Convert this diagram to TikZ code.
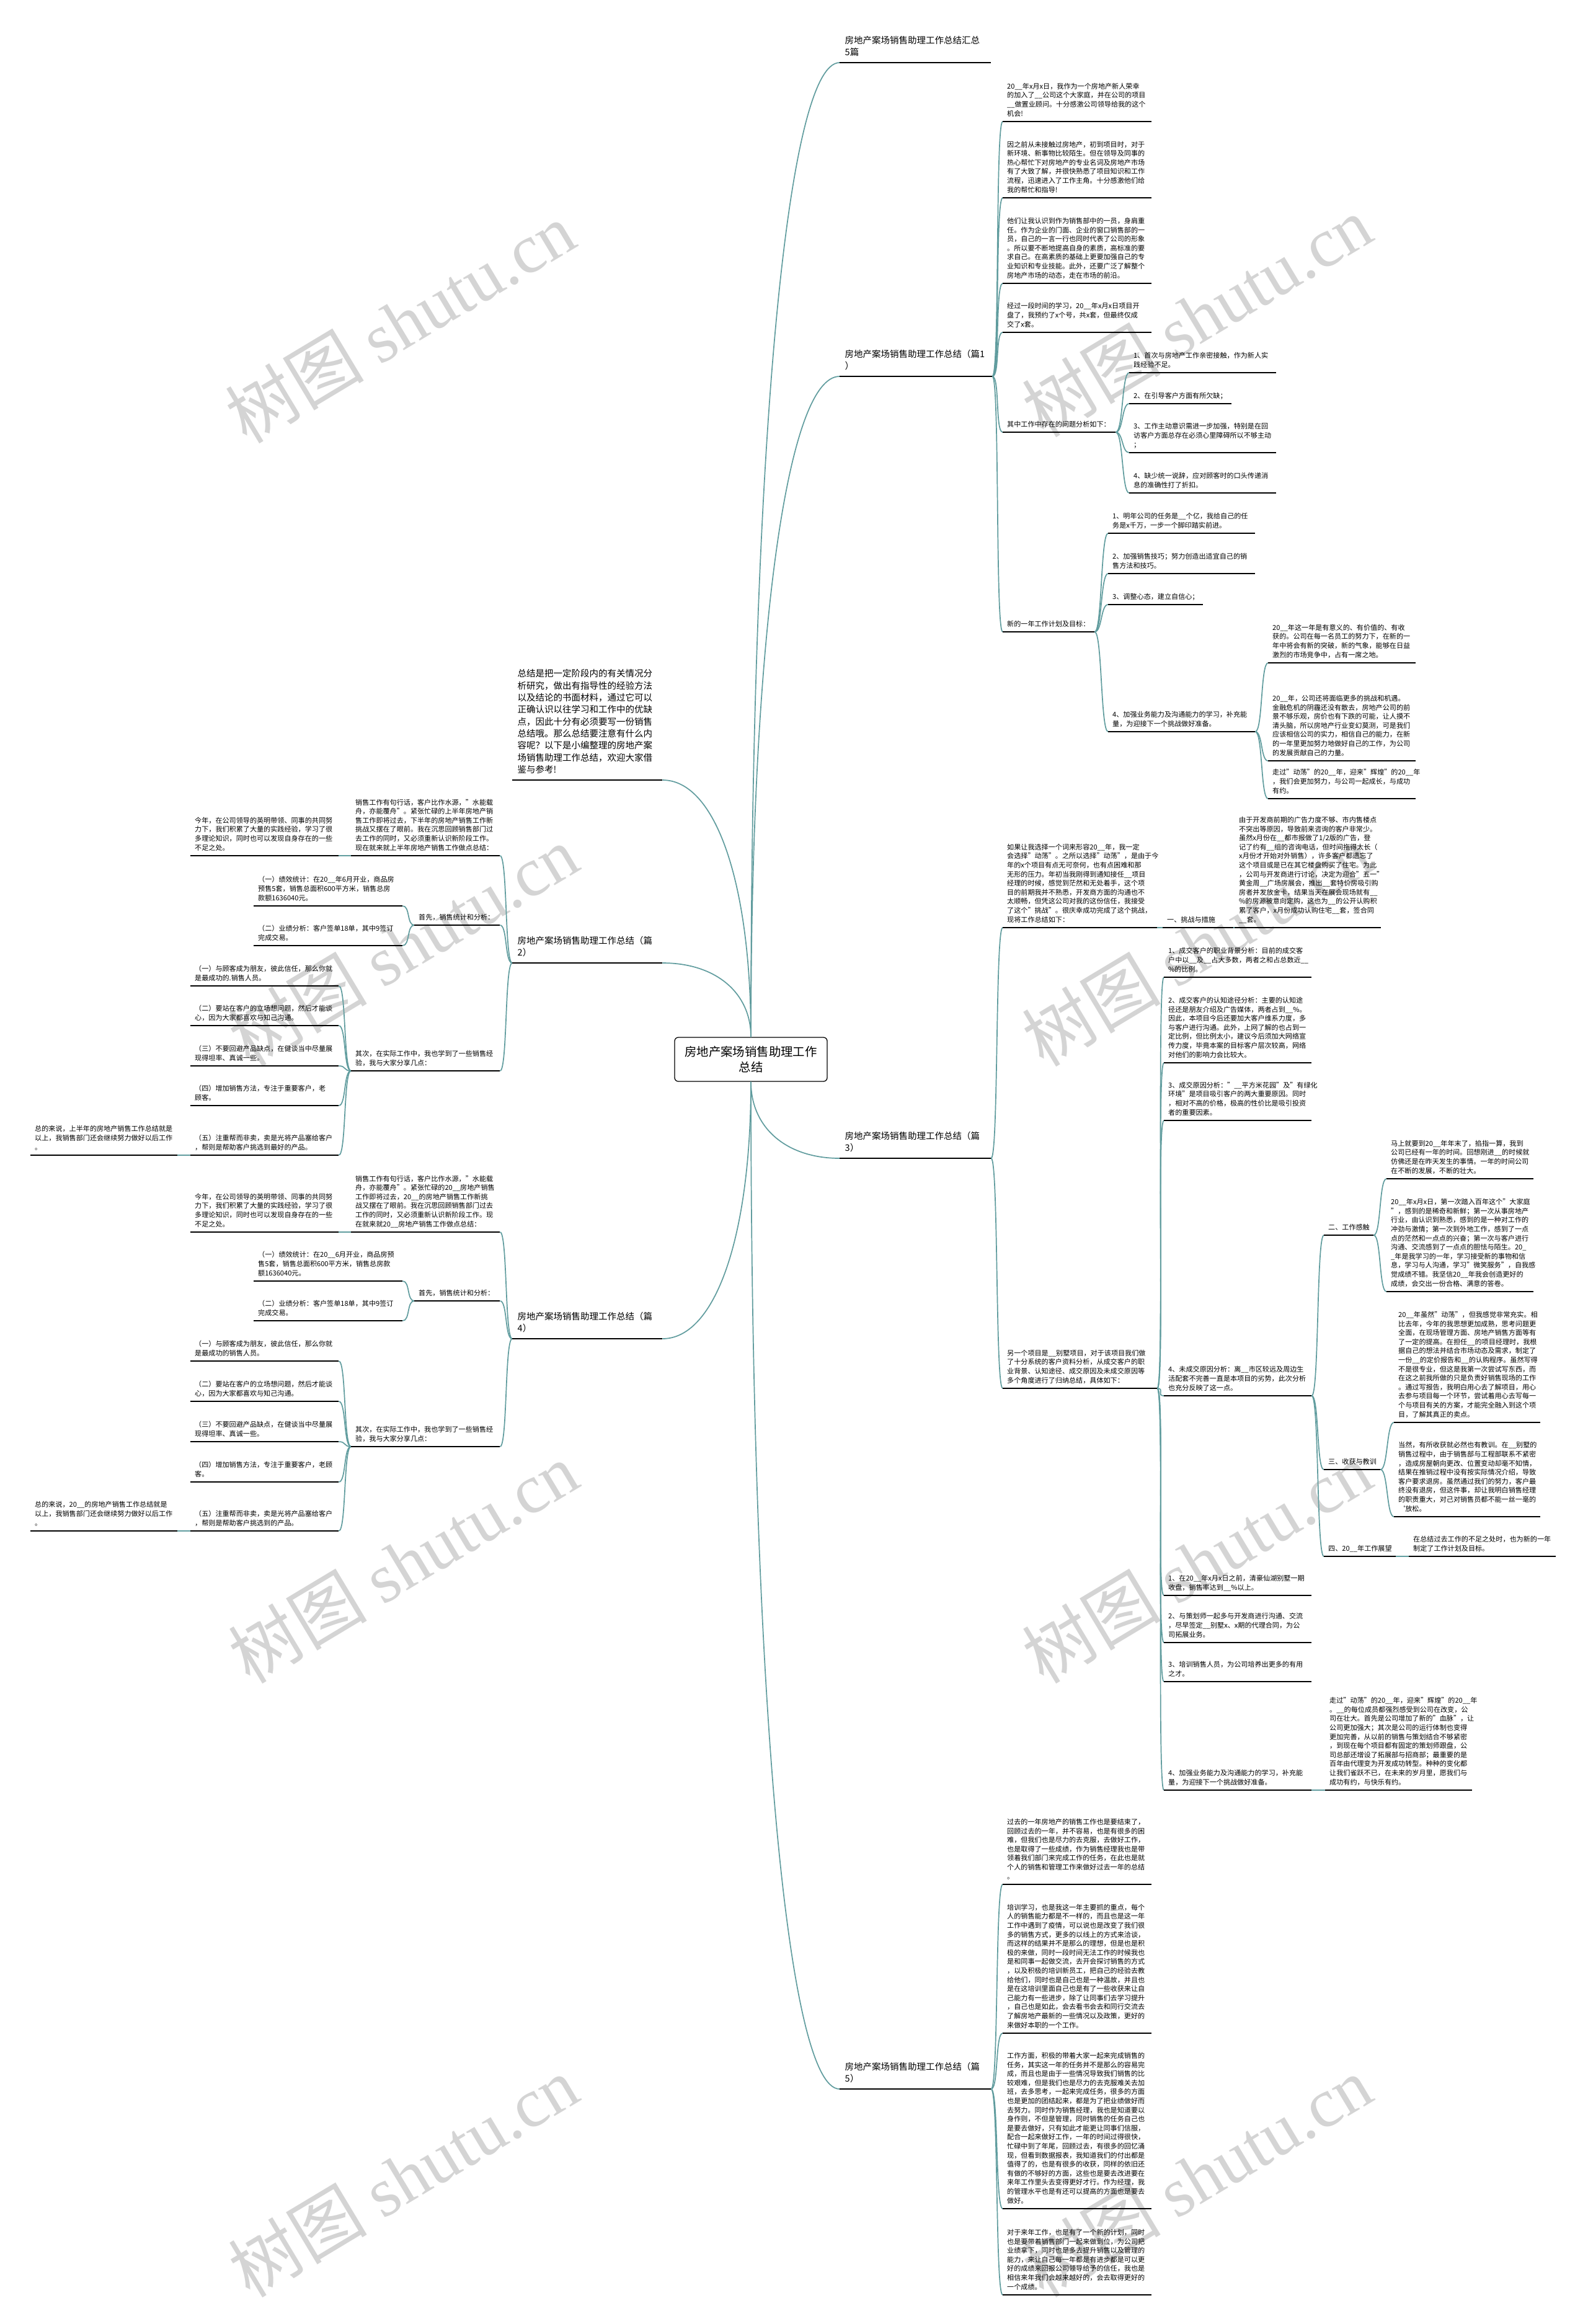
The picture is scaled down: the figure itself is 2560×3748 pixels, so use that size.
\documentclass[tikz,border=0pt]{standalone}
\usepackage{fontspec}
\setmainfont{Noto Sans CJK SC}
\newfontfamily\wmfont{Liberation Serif}
\usetikzlibrary{calc}
\definecolor{tealc}{RGB}{96,156,158}
\newcommand\fsm{\fontsize{11.1pt}{14.6pt}\selectfont}
\newcommand\fbg{\fontsize{14.5pt}{19.3pt}\selectfont}
\newcommand\frt{\fontsize{19.4pt}{24.5pt}\selectfont}
\newcommand\rc[2]{\draw[conn] (#1.south east) .. controls +(12,0) and +(-12,0) .. (#2.south west);}
\newcommand\lc[2]{\draw[conn] (#1.south west) .. controls +(-12,0) and +(12,0) .. (#2.south east);}
\newcommand\rootc[2]{\draw[conn] (#1) .. controls ($(#1)!0.6!(#1 |- #2)$) and ($(#2)!0.6!(#1 |- #2)$) .. (#2);}
\tikzset{
  conn/.style={draw=tealc, line width=1.7pt},
  uline/.style={draw=black, line width=2.2pt},
  sm/.style={anchor=south west, inner xsep=7pt, inner ysep=6.2pt, font=\fsm, align=left, execute at end node={\rule[-2.5pt]{0pt}{2.5pt}}},
  bg/.style={anchor=south west, inner xsep=8.5pt, inner ysep=9pt, font=\fbg, align=left, execute at end node={\rule[-2.5pt]{0pt}{2.5pt}}},
  wm/.style={text=black!17, rotate=31, font=\fontsize{112pt}{112pt}\selectfont, inner sep=0pt},
}
\begin{document}
\begin{tikzpicture}[x=1pt,y=-1pt]
\fill[white] (0,0) rectangle (2560,3748);
\useasboundingbox (0,0) rectangle (2560,3748);

% watermarks
\foreach \wx/\wy [count=\i] in {645/520,1930/510,650/1525,1930/1525,650/2520,1930/2520,650/3510,1930/3510}
  \node[wm] (wm\i) at (\wx,\wy) {树图 {\wmfont shutu.cn}};

% root
\node[draw, rounded corners=6pt, line width=1.3pt, minimum width=246pt, minimum height=71pt, align=center, font=\frt, inner sep=0pt] (root) at (1211,1708.5) {房地产案场销售助理工作\\总结};

% level 1
\node[bg, text width=227pt] (T0) at (1354,101) {房地产案场销售助理工作总结汇总\\5篇};
\node[bg, text width=229pt] (B1) at (1354,607) {房地产案场销售助理工作总结（篇1\\）};
\node[bg, text width=227pt] (B3) at (1354,1868) {房地产案场销售助理工作总结（篇\\3）};
\node[bg, text width=227pt] (B5) at (1354,3369) {房地产案场销售助理工作总结（篇\\5）};
\node[bg, text width=225pt] (IN) at (826,1258) {总结是把一定阶段内的有关情况分\\析研究，做出有指导性的经验方法\\以及结论的书面材料，通过它可以\\正确认识以往学习和工作中的优缺\\点，因此十分有必须要写一份销售\\总结哦。那么总结要注意有什么内\\容呢？以下是小编整理的房地产案\\场销售助理工作总结，欢迎大家借\\鉴与参考!};
\node[bg, text width=225pt] (B2) at (826,1553) {房地产案场销售助理工作总结（篇\\2）};
\node[bg, text width=225pt] (B4) at (826,2159) {房地产案场销售助理工作总结（篇\\4）};

% branch 1
\node[sm, text width=226pt] (a1) at (1617,196) {20\_\_年x月x日，我作为一个房地产新人荣幸\\的加入了\_\_公司这个大家庭，并在公司的项目\\\_\_做置业顾问。十分感激公司领导给我的这个\\机会!};
\node[sm, text width=226pt] (a2) at (1617,319) {因之前从未接触过房地产，初到项目时，对于\\新环境、新事物比较陌生。但在领导及同事的\\热心帮忙下对房地产的专业名词及房地产市场\\有了大致了解，并很快熟悉了项目知识和工作\\流程，迅速进入了工作主角。十分感激他们给\\我的帮忙和指导!};
\node[sm, text width=226pt] (a3) at (1617,457) {他们让我认识到作为销售部中的一员，身肩重\\任。作为企业的门面、企业的窗口销售部的一\\员，自己的一言一行也同时代表了公司的形象\\。所以要不断地提高自身的素质，高标准的要\\求自己。在高素质的基础上更要加强自己的专\\业知识和专业技能。此外，还要广泛了解整个\\房地产市场的动态，走在市场的前沿。};
\node[sm, text width=226pt] (a4) at (1617,536) {经过一段时间的学习，20\_\_年x月x日项目开\\盘了，我预约了x个号，共x套，但最终仅成\\交了x套。};
\node[sm, text width=168pt] (a5) at (1617,697) {其中工作中存在的问题分析如下：};
\node[sm, text width=134pt] (a6) at (1617,1019) {新的一年工作计划及目标：};
\node[sm, text width=223pt] (p1) at (1821,601) {1、首次与房地产工作亲密接触，作为新人实\\践经验不足。};
\node[sm, text width=151pt] (p2) at (1821,651) {2、在引导客户方面有所欠缺；};
\node[sm, text width=223pt] (p3) at (1821,730) {3、工作主动意识需进一步加强，特别是在回\\访客户方面总存在必须心里障碍所以不够主动\\；};
\node[sm, text width=223pt] (p4) at (1821,795) {4、缺少统一说辞，应对顾客时的口头传递消\\息的准确性打了折扣。};
\node[sm, text width=223pt] (q1) at (1787,860) {1、明年公司的任务是\_\_个亿，我给自己的任\\务是x千万，一步一个脚印踏实前进。};
\node[sm, text width=223pt] (q2) at (1787,925) {2、加强销售技巧；努力创造出适宜自己的销\\售方法和技巧。};
\node[sm, text width=139pt] (q3) at (1787,975) {3、调整心态，建立自信心；};
\node[sm, text width=223pt] (q4) at (1787,1180) {4、加强业务能力及沟通能力的学习，补充能\\量，为迎接下一个挑战做好准备。};
\node[sm, text width=224pt] (k1) at (2045,1069) {20\_\_年这一年是有意义的、有价值的、有收\\获的。公司在每一名员工的努力下，在新的一\\年中将会有新的突破，新的气象，能够在日益\\激烈的市场竞争中，占有一席之地。};
\node[sm, text width=224pt] (k2) at (2045,1227) {20\_\_年，公司还将面临更多的挑战和机遇。\\金融危机的阴霾还没有散去，房地产公司的前\\景不够乐观，房价也有下跌的可能，让人摸不\\清头脑，所以房地产行业变幻莫测，可是我们\\应该相信公司的实力，相信自己的能力，在新\\的一年里更加努力地做好自己的工作，为公司\\的发展贡献自己的力量。};
\node[sm, text width=224pt] (k3) at (2045,1288) {走过"动荡"的20\_\_年，迎来"辉煌"的20\_\_年\\，我们会更加努力，与公司一起成长，与成功\\有约。};

% branch 3
\node[sm, text width=235pt] (d1) at (1617,1496) {如果让我选择一个词来形容20\_\_年，我一定\\会选择"动荡"。之所以选择"动荡"，是由于今\\年的x个项目有点无可奈何，也有点困难和那\\无形的压力。年初当我刚得到通知接任\_\_项目\\经理的时候，感觉到茫然和无处着手，这个项\\目的前期我并不熟悉，开发商方面的沟通也不\\太顺畅，但凭这公司对我的这份信任，我接受\\了这个"挑战"。很庆幸成功完成了这个挑战，\\现将工作总结如下：};
\node[sm, text width=100pt] (ch) at (1875,1496) {一、挑战与措施};
\node[sm, text width=222pt] (dv) at (1991,1496) {由于开发商前期的广告力度不够、市内售楼点\\不突出等原因，导致前来咨询的客户非常少。\\虽然x月份在\_\_都市报做了1/2版的广告，登\\记了约有\_\_组的咨询电话，但时间拖得太长（\\x月份才开始对外销售），许多客户都遗忘了\\这个项目或是已在其它楼盘购买了住宅。为此\\，公司与开发商进行讨论，决定为迎合"五一"\\黄金周\_\_广场房展会，推出\_\_套特价房吸引购\\房者并发放金卡，结果当天在展会现场就有\_\_\\\%的房源被意向定购，这也为\_\_的公开认购积\\累了客户，x月份成功认购住宅\_\_套，签合同\\\_\_套。};
\node[sm, text width=235pt] (d2) at (1617,2239) {另一个项目是\_\_别墅项目，对于该项目我们做\\了十分系统的客户资料分析，从成交客户的职\\业背景、认知途径、成交原因及未成交原因等\\多个角度进行了归纳总结，具体如下：};
\node[sm, text width=224pt] (e1) at (1877,1576) {1、成交客户的职业背景分析：目前的成交客\\户中以\_\_及\_\_占大多数，两者之和占总数近\_\_\\\%的比例。};
\node[sm, text width=224pt] (e2) at (1877,1714) {2、成交客户的认知途径分析：主要的认知途\\径还是朋友介绍及广告媒体，两者占到\_\_\%。\\因此，本项目今后还要加大客户维系力度，多\\与客户进行沟通。此外，上网了解的也占到一\\定比例，但比例太小，建议今后须加大网络宣\\传力度，毕竟本案的目标客户层次较高，网络\\对他们的影响力会比较大。};
\node[sm, text width=224pt] (e3) at (1877,1807) {3、成交原因分析："\_\_平方米花园"及"有绿化\\环境"是项目吸引客户的两大重要原因。同时\\，相对不高的价格，极高的性价比是吸引投资\\者的重要因素。};
\node[sm, text width=224pt] (e4) at (1877,2251) {4、未成交原因分析：离\_\_市区较远及周边生\\活配套不完善一直是本项目的劣势，此次分析\\也充分反映了这一点。};
\node[sm, text width=224pt] (e5) at (1877,2573) {1、在20\_\_年x月x日之前，清豪仙湖别墅一期\\收盘，销售率达到\_\_\%以上。};
\node[sm, text width=224pt] (e6) at (1877,2649) {2、与策划师一起多与开发商进行沟通、交流\\，尽早签定\_\_别墅x、x期的代理合同，为公\\司拓展业务。};
\node[sm, text width=224pt] (e7) at (1877,2712) {3、培训销售人员，为公司培养出更多的有用\\之才。};
\node[sm, text width=224pt] (e8) at (1877,2887) {4、加强业务能力及沟通能力的学习，补充能\\量，为迎接下一个挑战做好准备。};
\node[sm, text width=223pt] (e8a) at (2137,2887) {走过"动荡"的20\_\_年，迎来"辉煌"的20\_\_年\\。\_\_的每位成员都强烈感受到公司在改变，公\\司在壮大。首先是公司增加了新的"血脉"，让\\公司更加强大；其次是公司的运行体制也变得\\更加完善，从以前的销售与策划结合不够紧密\\，到现在每个项目都有固定的策划师跟盘，公\\司总部还增设了拓展部与招商部；最重要的是\\百年由代理变为开发成功转型。种种的变化都\\让我们雀跃不已，在未来的岁月里，愿我们与\\成功有约，与快乐有约。};
\node[sm, text width=66pt] (f2) at (2135,1992) {二、工作感触};
\node[sm, text width=77pt] (f3) at (2135,2370) {三、收获与教训};
\node[sm, text width=102pt] (f4) at (2135,2510) {四、20\_\_年工作展望};
\node[sm, text width=223pt] (g1) at (2236,1901) {马上就要到20\_\_年年末了，掐指一算，我到\\公司已经有一年的时间。回想刚进\_\_的时候就\\仿佛还是在昨天发生的事情。一年的时间公司\\在不断的发展，不断的壮大。};
\node[sm, text width=223pt] (g2) at (2236,2083) {20\_\_年x月x日，第一次踏入百年这个"大家庭\\"，感到的是稀奇和新鲜；第一次从事房地产\\行业，由认识到熟悉，感到的是一种对工作的\\冲劲与激情；第一次到外地工作，感到了一点\\点的茫然和一点点的兴奋；第一次与客户进行\\沟通、交流感到了一点点的胆怯与陌生。20\_\\\_年是我学习的一年，学习接受新的事物和信\\息，学习与人沟通，学习"微笑服务"，自我感\\觉成绩不错。我坚信20\_\_年我会创造更好的\\成绩，会交出一份合格、满意的答卷。};
\node[sm, text width=222pt] (g3) at (2248,2294) {20\_\_年虽然"动荡"，但我感觉非常充实。相\\比去年，今年的我思想更加成熟，思考问题更\\全面，在现场管理方面、房地产销售方面等有\\了一定的提高。在担任\_\_的项目经理时，我根\\据自己的想法并结合市场动态及需求，制定了\\一份\_\_的定价报告和\_\_的认购程序。虽然写得\\不是很专业，但这是我第一次尝试写东西，而\\在这之前我所做的只是负责好销售现场的工作\\。通过写报告，我明白用心去了解项目，用心\\去参与项目每一个环节，尝试着用心去写每一\\个与项目有关的方案，才能完全融入到这个项\\目，了解其真正的卖点。};
\node[sm, text width=222pt] (g4) at (2248,2446) {当然，有所收获就必然也有教训。在\_\_别墅的\\销售过程中，由于销售部与工程部联系不紧密\\，造成房屋朝向更改、位置变动却毫不知情，\\结果在推销过程中没有按实际情况介绍，导致\\客户要求退房。虽然通过我们的努力，客户最\\终没有退房，但这件事，却让我明白销售经理\\的职责重大，对己对销售员都不能一丝一毫的\\`放松。};
\node[sm, text width=223pt] (g5) at (2272,2510) {在总结过去工作的不足之处时，也为新的一年\\制定了工作计划及目标。};

% branch 5
\node[sm, text width=226pt] (h1) at (1617,3039) {过去的一年房地产的销售工作也是要结束了，\\回顾过去的一年，并不容易，也是有很多的困\\难，但我们也是尽力的去克服，去做好工作，\\也是取得了一些成绩，作为销售经理我也是带\\领着我们部门来完成工作的任务，在此也是就\\个人的销售和管理工作来做好过去一年的总结\\。};
\node[sm, text width=226pt] (h2) at (1617,3279) {培训学习，也是我这一年主要抓的重点，每个\\人的销售能力都是不一样的，而且也是这一年\\工作中遇到了疫情，可以说也是改变了我们很\\多的销售方式，更多的以线上的方式来洽谈，\\而这样的结果并不是那么的理想，但是也是积\\极的来做，同时一段时间无法工作的时候我也\\是和同事一起做交流，去开会探讨销售的方式\\，以及积极的培训新员工，把自己的经验去教\\给他们，同时也是自己也是一种温故，并且也\\是在这培训里面自己也是有了一些收获来让自\\己能力有一些进步，除了让同事们去学习提升\\，自己也是如此，会去看书会去和同行交流去\\了解房地产最新的一些情况以及政策，更好的\\来做好本职的一个工作。};
\node[sm, text width=226pt] (h3) at (1617,3562) {工作方面，积极的带着大家一起来完成销售的\\任务，其实这一年的任务并不是那么的容易完\\成，而且也是由于一些情况导致我们销售的比\\较艰难，但是我们也是尽力的去克服难关去加\\班，去多思考，一起来完成任务，很多的方面\\也是更加的团结起来，都是为了把业绩做好而\\去努力。同时作为销售经理，我也是知道要以\\身作则，不但是管理，同时销售的任务自己也\\是要去做好，只有如此才能更让同事们信服，\\配合一起来做好工作，一年的时间过得很快，\\忙碌中到了年尾，回顾过去，有很多的回忆涌\\现，但看到数据报表，我知道我们的付出都是\\值得了的，也是有很多的收获，同样的依旧还\\有做的不够好的方面，这些也是要去改进要在\\来年工作里头去变得更好才行。作为经理，我\\的管理水平也是有还可以提高的方面也是要去\\做好。};
\node[sm, text width=226pt] (h4) at (1617,3701) {对于来年工作，也是有了一个新的计划，同时\\也是要带着销售部门一起来做到位，为公司把\\业绩拿下，同时也是多去提升销售以及管理的\\能力，来让自己每一年都是有进步都是可以更\\好的成绩来回报公司领导给予的信任，我也是\\相信来年我们会越来越好的，会去取得更好的\\一个成绩。};

% branch 2 (left)
\node[sm, text width=226pt] (m1) at (566,1380) {销售工作有句行话，客户比作水源，"水能载\\舟，亦能覆舟"。紧张忙碌的上半年房地产销\\售工作即将过去，下半年的房地产销售工作新\\挑战又摆在了眼前。我在沉思回顾销售部门过\\去工作的同时，又必须重新认识新阶段工作。\\现在就来就上半年房地产销售工作做点总结：};
\node[sm, text width=225pt] (m1a) at (307,1380) {今年，在公司领导的英明带领、同事的共同努\\力下，我们积累了大量的实践经验，学习了很\\多理论知识，同时也可以发现自身存在的一些\\不足之处。};
\node[sm, text width=124pt] (m2) at (668,1492) {首先，销售统计和分析：};
\node[sm, text width=226pt] (m2a) at (409,1461) {（一）绩效统计：在20\_\_年6月开业，商品房\\预售5套，销售总面积600平方米，销售总房\\款额1636040元。};
\node[sm, text width=226pt] (m2b) at (409,1525) {（二）业绩分析：客户签单18单，其中9签订\\完成交易。};
\node[sm, text width=226pt] (m3) at (566,1727) {其次，在实际工作中，我也学到了一些销售经\\验，我与大家分享几点：};
\node[sm, text width=225pt] (m3a) at (307,1590) {（一）与顾客成为朋友，彼此信任，那么你就\\是最成功的.销售人员。};
\node[sm, text width=225pt] (m3b) at (307,1654) {（二）要站在客户的立场想问题，然后才能谈\\心，因为大家都喜欢与知己沟通。};
\node[sm, text width=225pt] (m3c) at (307,1719) {（三）不要回避产品缺点，在健谈当中尽量展\\现得坦率、真诚一些。};
\node[sm, text width=225pt] (m3d) at (307,1783) {（四）增加销售方法，专注于重要客户，老\\顾客。};
\node[sm, text width=225pt] (m3e) at (307,1863) {（五）注重帮而非卖，卖是光将产品塞给客户\\，帮则是帮助客户挑选到最好的产品。};
\node[sm, text width=223pt] (m3f) at (49,1863) {总的来说，上半年的房地产销售工作总结就是\\以上，我销售部门还会继续努力做好以后工作\\。};

% branch 4 (left)
\node[sm, text width=226pt] (n1) at (566,1987) {销售工作有句行话，客户比作水源，"水能载\\舟，亦能覆舟"。紧张忙碌的20\_\_房地产销售\\工作即将过去，20\_\_的房地产销售工作新挑\\战又摆在了眼前。我在沉思回顾销售部门过去\\工作的同时，又必须重新认识新阶段工作。现\\在就来就20\_\_房地产销售工作做点总结：};
\node[sm, text width=225pt] (n1a) at (307,1987) {今年，在公司领导的英明带领、同事的共同努\\力下，我们积累了大量的实践经验，学习了很\\多理论知识，同时也可以发现自身存在的一些\\不足之处。};
\node[sm, text width=124pt] (n2) at (668,2098) {首先，销售统计和分析：};
\node[sm, text width=226pt] (n2a) at (409,2066) {（一）绩效统计：在20\_\_6月开业，商品房预\\售5套，销售总面积600平方米，销售总房款\\额1636040元。};
\node[sm, text width=226pt] (n2b) at (409,2130) {（二）业绩分析：客户签单18单，其中9签订\\完成交易。};
\node[sm, text width=226pt] (n3) at (566,2333) {其次，在实际工作中，我也学到了一些销售经\\验，我与大家分享几点：};
\node[sm, text width=225pt] (n3a) at (307,2195) {（一）与顾客成为朋友，彼此信任，那么你就\\是最成功的销售人员。};
\node[sm, text width=225pt] (n3b) at (307,2260) {（二）要站在客户的立场想问题，然后才能谈\\心，因为大家都喜欢与知己沟通。};
\node[sm, text width=225pt] (n3c) at (307,2325) {（三）不要回避产品缺点，在健谈当中尽量展\\现得坦率、真诚一些。};
\node[sm, text width=225pt] (n3d) at (307,2390) {（四）增加销售方法，专注于重要客户，老顾\\客。};
\node[sm, text width=225pt] (n3e) at (307,2469) {（五）注重帮而非卖，卖是光将产品塞给客户\\，帮则是帮助客户挑选到的产品。};
\node[sm, text width=223pt] (n3f) at (49,2469) {总的来说，20\_\_的房地产销售工作总结就是\\以上，我销售部门还会继续努力做好以后工作\\。};

% connectors from root
\rootc{root.north}{T0.south west}
\rootc{root.north}{B1.south west}
\rootc{root.north}{IN.south east}
\rootc{root.north}{B2.south east}
\rootc{root.south}{B3.south west}
\rootc{root.south}{B5.south west}
\rootc{root.south}{B4.south east}

% right connectors
\foreach \c in {a1,a2,a3,a4,a5,a6} {\rc{B1}{\c}}
\foreach \c in {p1,p2,p3,p4} {\rc{a5}{\c}}
\foreach \c in {q1,q2,q3,q4} {\rc{a6}{\c}}
\foreach \c in {k1,k2,k3} {\rc{q4}{\c}}
\rc{B3}{d1} \rc{B3}{d2}
\rc{d1}{ch} \rc{ch}{dv}
\foreach \c in {e1,e2,e3,e4,e5,e6,e7,e8} {\rc{d2}{\c}}
\rc{e8}{e8a}
\foreach \c in {f2,f3,f4} {\rc{e4}{\c}}
\rc{f2}{g1} \rc{f2}{g2} \rc{f3}{g3} \rc{f3}{g4} \rc{f4}{g5}
\foreach \c in {h1,h2,h3,h4} {\rc{B5}{\c}}

% left connectors
\foreach \c in {m1,m2,m3} {\lc{B2}{\c}}
\lc{m1}{m1a}
\lc{m2}{m2a} \lc{m2}{m2b}
\foreach \c in {m3a,m3b,m3c,m3d,m3e} {\lc{m3}{\c}}
\lc{m3e}{m3f}
\foreach \c in {n1,n2,n3} {\lc{B4}{\c}}
\lc{n1}{n1a}
\lc{n2}{n2a} \lc{n2}{n2b}
\foreach \c in {n3a,n3b,n3c,n3d,n3e} {\lc{n3}{\c}}
\lc{n3e}{n3f}

% underlines
\foreach \n in {T0,B1,B2,B3,B4,B5,IN,a1,a2,a3,a4,a5,a6,p1,p2,p3,p4,q1,q2,q3,q4,k1,k2,k3,d1,ch,dv,d2,e1,e2,e3,e4,e5,e6,e7,e8,e8a,f2,f3,f4,g1,g2,g3,g4,g5,h1,h2,h3,h4,m1,m1a,m2,m2a,m2b,m3,m3a,m3b,m3c,m3d,m3e,m3f,n1,n1a,n2,n2a,n2b,n3,n3a,n3b,n3c,n3d,n3e,n3f}
  \draw[uline] (\n.south west) -- (\n.south east);
\end{tikzpicture}
\end{document}
